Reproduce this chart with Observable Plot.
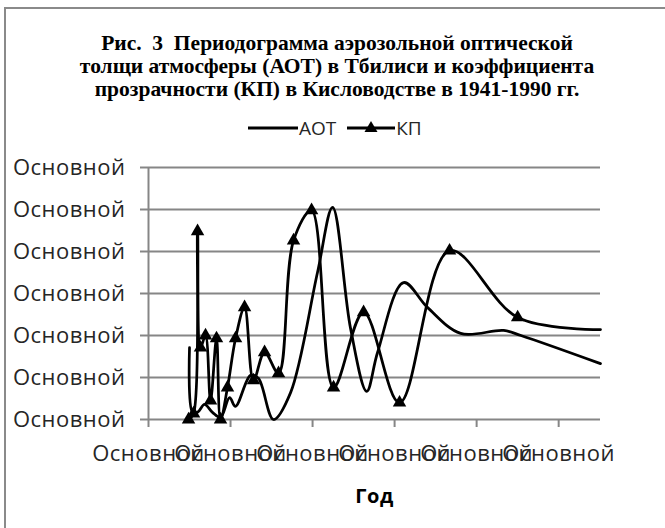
<!DOCTYPE html>
<html><head><meta charset="utf-8">
<script src="https://cdn.jsdelivr.net/npm/d3@7"></script>
<script src="https://cdn.jsdelivr.net/npm/@observablehq/plot@0.6"></script>
<style>
body{margin:0;width:665px;height:528px;overflow:hidden;background:#fff;position:relative;font-family:"Open Sans",sans-serif;}
#frame{position:absolute;left:4px;top:7px;width:720px;height:620px;border-left:2px solid #8a8a8a;border-top:2px solid #8a8a8a;}
#title{position:absolute;left:-13px;width:700px;top:32px;text-align:center;font-family:"Liberation Serif",serif;font-weight:bold;font-size:21.5px;line-height:23px;color:#000;}
#legend{position:absolute;top:114px;left:247px;display:flex;align-items:center;font-size:19px;color:#262626;height:28px;}
#legend span{margin-right:10px;}
#chart{position:absolute;left:0;top:140px;}
</style></head>
<body>
<div id="frame"></div>
<div id="title">Рис.&nbsp; 3&nbsp; Периодограмма аэрозольной оптической<br>толщи атмосферы (АОТ) в Тбилиси и коэффициента<br>прозрачности (КП) в Кисловодстве в 1941-1990 гг.</div>
<div id="legend">
<svg width="52" height="20"><line x1="1" x2="51" y1="10" y2="10" stroke="#000" stroke-width="3"/></svg><span>АОТ</span>
<svg width="50" height="20"><line x1="1" x2="49" y1="10" y2="10" stroke="#000" stroke-width="3"/><path d="M25,3 L31.5,14 L18.5,14 Z" fill="#000"/></svg><span>КП</span>
</div>
<div id="chart"></div>
<script>
const seriesNames = ["АОТ", "КП"];
const tickLabel = "Основной";
const axisTitle = "Год";
const yTicks = [0, 1, 2, 3, 4, 5, 6];
const xTicks = [0, 10, 20, 30, 40, 50];

const aotX = [5.0, 5.37, 5.98, 6.83, 7.8, 8.78, 9.88, 10.6, 12.44, 13.4, 15.24, 17.32, 20.6, 22.44, 24.63, 26.6, 27.93, 31.1, 34.0, 38.05, 43.3, 45.4, 55.1];
const aotY = [1.71, 0.17, 0.17, 0.36, 0.17, 0.05, 0.52, 0.31, 1.05, 0.98, 0.0, 0.64, 3.5, 5.05, 2.17, 0.67, 1.6, 3.26, 2.67, 2.05, 2.12, 2.0, 1.33];

const kpX = [4.88, 5.49, 5.98, 6.34, 6.95, 7.56, 8.29, 8.78, 9.63, 10.61, 11.71, 12.8, 14.15, 15.85, 17.68, 19.88, 22.56, 26.22, 30.6, 36.7, 45.0, 55.1];
const kpY = [0.0, 0.14, 4.48, 1.71, 2.0, 0.45, 1.93, 0.0, 0.76, 1.93, 2.67, 0.93, 1.6, 1.1, 4.26, 4.98, 0.76, 2.55, 0.4, 4.02, 2.43, 2.14];

const aot = aotX.map((x, i) => ({x, y: aotY[i]}));
const kp = kpX.map((x, i) => ({x, y: kpY[i]}));

const chart = Plot.plot({
  width: 665, height: 388,
  marginLeft: 148, marginRight: 65, marginTop: 27, marginBottom: 109,
  style: {fontFamily: "'Open Sans', sans-serif", fontSize: "22px", letterSpacing: "0.5px", color: "#262626", background: "transparent", overflow: "visible"},
  x: {domain: [0, 55.1]},
  y: {domain: [0, 6]},
  marks: [
    Plot.gridY(yTicks, {stroke: "#868686", strokeOpacity: 1, strokeWidth: 2}),
    Plot.ruleX([0], {stroke: "#868686", strokeWidth: 2}),
    Plot.axisY(yTicks, {tickFormat: () => tickLabel, tickSize: 8, tickPadding: 15, stroke: "#868686", strokeWidth: 2, fill: "#262626", label: null}),
    Plot.axisX(xTicks, {tickFormat: () => tickLabel, tickSize: 8, tickPadding: 18, stroke: "#868686", strokeWidth: 2, fill: "#262626", label: null}),
    Plot.line(aot, {x: "x", y: "y", curve: "catmull-rom", stroke: "#000", strokeWidth: 2.75}),
    Plot.line(kp, {x: "x", y: "y", curve: "catmull-rom", stroke: "#000", strokeWidth: 2.75}),
    Plot.dot(kp.slice(0, -1), {x: "x", y: "y", symbol: "triangle", r: 5, fill: "#000", stroke: "none"}),
    Plot.text([axisTitle], {frameAnchor: "bottom", dy: 83, fontWeight: "bold", fontSize: 20, letterSpacing: 0, fill: "#000"})
  ]
});
document.getElementById("chart").appendChild(chart);
</script>
</body></html>
